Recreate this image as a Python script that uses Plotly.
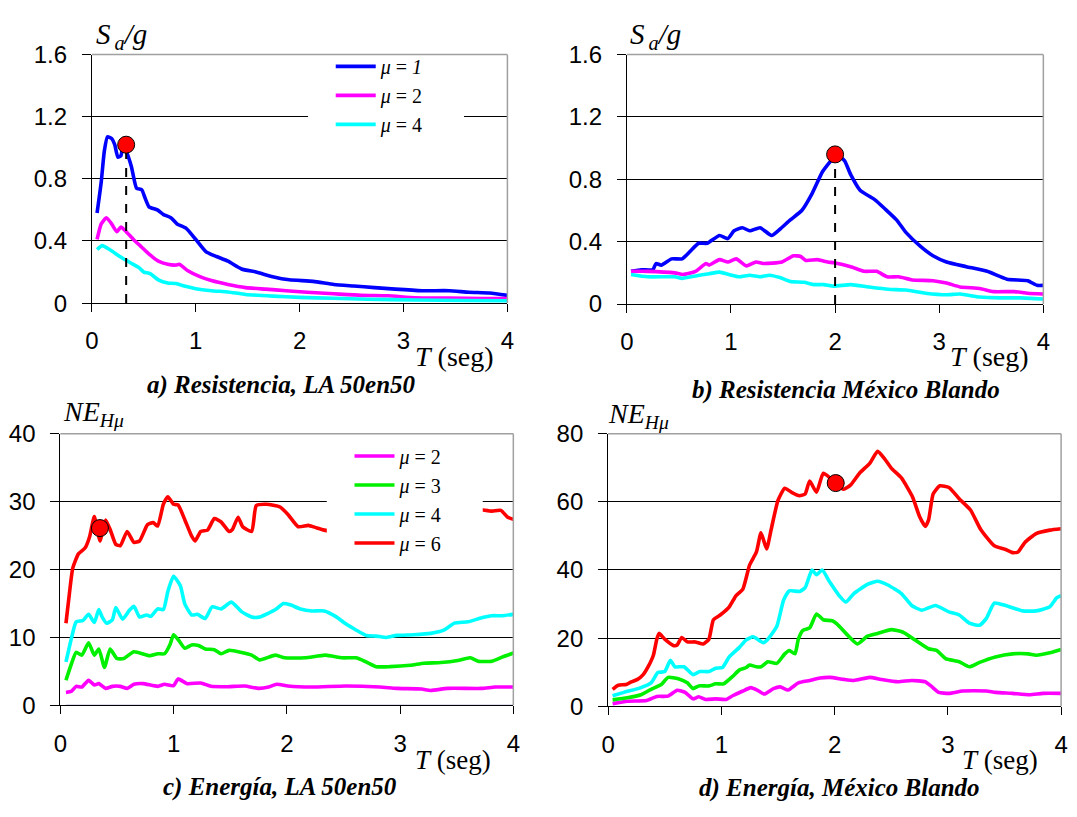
import plotly.graph_objects as go

# ---------------- DATA ----------------
# Panel a) Resistencia, LA 50en50  (Sa/g)
a_mu1_T = [0.05, 0.09, 0.12, 0.15, 0.19, 0.22, 0.25, 0.28, 0.30, 0.33, 0.38, 0.43, 0.48, 0.51, 0.55, 0.63, 0.69, 0.76, 0.82, 0.91, 1.00, 1.10, 1.20, 1.31, 1.44, 1.58, 1.74, 1.90, 2.13, 2.33, 2.52, 2.72, 2.92, 3.18, 3.44, 3.63, 3.83, 4.00]
a_mu1_V = [0.58, 0.78, 0.98, 1.07, 1.06, 1.02, 0.94, 0.95, 1.02, 0.98, 0.88, 0.74, 0.73, 0.68, 0.62, 0.60, 0.57, 0.55, 0.51, 0.48, 0.41, 0.33, 0.30, 0.27, 0.22, 0.20, 0.17, 0.15, 0.14, 0.12, 0.11, 0.10, 0.09, 0.08, 0.08, 0.07, 0.065, 0.05]
a_mu2_T = [0.05, 0.09, 0.14, 0.19, 0.24, 0.28, 0.33, 0.40, 0.48, 0.56, 0.64, 0.73, 0.81, 0.84, 0.92, 1.04, 1.15, 1.31, 1.48, 1.67, 1.87, 2.07, 2.33, 2.59, 2.85, 3.11, 3.44, 3.76, 4.00]
a_mu2_V = [0.41, 0.51, 0.55, 0.51, 0.46, 0.49, 0.46, 0.41, 0.36, 0.31, 0.27, 0.25, 0.245, 0.25, 0.21, 0.17, 0.145, 0.12, 0.10, 0.09, 0.08, 0.07, 0.06, 0.05, 0.047, 0.035, 0.033, 0.03, 0.03]
a_mu4_T = [0.05, 0.10, 0.17, 0.27, 0.37, 0.45, 0.50, 0.56, 0.64, 0.73, 0.81, 0.89, 1.00, 1.15, 1.31, 1.48, 1.74, 2.00, 2.33, 2.65, 3.11, 3.60, 4.00]
a_mu4_V = [0.345, 0.37, 0.345, 0.30, 0.26, 0.23, 0.20, 0.19, 0.15, 0.13, 0.126, 0.11, 0.093, 0.08, 0.072, 0.056, 0.045, 0.037, 0.031, 0.025, 0.02, 0.017, 0.015]
a_point = (0.33, 1.02)

# Panel b) Resistencia México Blando  (Sa/g)
b_mu1_T = [0.04, 0.14, 0.25, 0.28, 0.33, 0.43, 0.53, 0.61, 0.69, 0.77, 0.89, 0.97, 1.03, 1.11, 1.18, 1.28, 1.39, 1.47, 1.57, 1.68, 1.78, 1.88, 1.96, 2.01, 2.09, 2.15, 2.24, 2.38, 2.48, 2.59, 2.68, 2.82, 2.94, 3.07, 3.26, 3.46, 3.65, 3.85, 3.94, 4.00]
b_mu1_V = [0.21, 0.22, 0.22, 0.26, 0.25, 0.29, 0.29, 0.34, 0.39, 0.39, 0.44, 0.42, 0.47, 0.49, 0.47, 0.49, 0.44, 0.48, 0.54, 0.60, 0.71, 0.85, 0.92, 0.96, 0.92, 0.83, 0.73, 0.67, 0.61, 0.54, 0.46, 0.37, 0.31, 0.27, 0.24, 0.21, 0.16, 0.15, 0.12, 0.12]
b_mu2_T = [0.04, 0.20, 0.46, 0.54, 0.66, 0.76, 0.79, 0.89, 0.97, 1.05, 1.15, 1.24, 1.31, 1.49, 1.60, 1.67, 1.72, 1.83, 1.93, 1.99, 2.15, 2.28, 2.40, 2.50, 2.61, 2.74, 2.94, 3.07, 3.20, 3.39, 3.52, 3.72, 3.85, 4.00]
b_mu2_V = [0.21, 0.21, 0.20, 0.19, 0.21, 0.26, 0.25, 0.285, 0.27, 0.29, 0.245, 0.27, 0.26, 0.27, 0.31, 0.305, 0.28, 0.285, 0.27, 0.265, 0.24, 0.21, 0.21, 0.175, 0.175, 0.155, 0.15, 0.135, 0.11, 0.10, 0.08, 0.08, 0.07, 0.065]
b_mu4_T = [0.04, 0.20, 0.46, 0.53, 0.66, 0.79, 0.89, 0.98, 1.08, 1.18, 1.28, 1.37, 1.47, 1.57, 1.70, 1.80, 1.89, 1.99, 2.15, 2.32, 2.51, 2.68, 2.87, 3.07, 3.20, 3.39, 3.59, 3.78, 4.00]
b_mu4_V = [0.19, 0.175, 0.175, 0.165, 0.18, 0.195, 0.205, 0.19, 0.175, 0.185, 0.175, 0.185, 0.17, 0.145, 0.14, 0.125, 0.125, 0.115, 0.125, 0.11, 0.095, 0.09, 0.07, 0.06, 0.065, 0.045, 0.04, 0.04, 0.033]
b_point = (2.0, 0.96)

# Panel c) Energía, LA 50en50  (NE_Hmu)
c_mu1_T = [0.05, 4.00]
c_mu1_V = [0.0, 0.0]
c_mu2_T = [0.05, 0.10, 0.14, 0.19, 0.25, 0.30, 0.34, 0.40, 0.46, 0.53, 0.59, 0.65, 0.73, 0.86, 0.92, 1.00, 1.04, 1.12, 1.24, 1.33, 1.48, 1.63, 1.75, 1.84, 1.91, 2.01, 2.22, 2.52, 2.82, 2.97, 3.19, 3.27, 3.42, 3.72, 3.84, 4.00]
c_mu2_V = [1.9, 2.1, 2.8, 2.7, 3.7, 3.0, 3.2, 2.5, 2.8, 2.8, 2.5, 3.1, 3.2, 2.8, 3.1, 2.9, 3.9, 3.2, 3.3, 2.8, 2.75, 2.85, 2.5, 2.7, 3.1, 2.85, 2.7, 2.85, 2.7, 2.5, 2.4, 2.2, 2.5, 2.5, 2.7, 2.7]
c_mu3_T = [0.05, 0.10, 0.14, 0.19, 0.25, 0.30, 0.34, 0.39, 0.44, 0.50, 0.56, 0.65, 0.79, 0.86, 0.92, 0.97, 1.00, 1.04, 1.10, 1.16, 1.22, 1.28, 1.36, 1.42, 1.49, 1.60, 1.69, 1.76, 1.90, 1.98, 2.16, 2.34, 2.49, 2.61, 2.70, 2.79, 2.91, 3.09, 3.21, 3.36, 3.51, 3.62, 3.69, 3.81, 3.90, 4.00]
c_mu3_V = [3.7, 6.2, 7.8, 7.4, 9.2, 7.4, 8.3, 5.6, 8.3, 6.9, 6.9, 7.9, 7.3, 7.6, 7.6, 9.0, 10.4, 9.7, 8.4, 8.9, 8.8, 8.3, 8.2, 7.6, 8.1, 7.8, 7.4, 6.7, 7.4, 7.0, 7.0, 7.4, 7.0, 7.0, 6.4, 5.7, 5.7, 5.9, 6.2, 6.3, 6.6, 7.0, 6.5, 6.5, 7.1, 7.7]
c_mu4_T = [0.05, 0.10, 0.14, 0.20, 0.25, 0.30, 0.34, 0.37, 0.41, 0.46, 0.49, 0.55, 0.61, 0.65, 0.70, 0.76, 0.80, 0.86, 0.91, 0.95, 1.00, 1.06, 1.10, 1.16, 1.21, 1.28, 1.34, 1.42, 1.51, 1.60, 1.69, 1.76, 1.90, 1.97, 2.03, 2.12, 2.22, 2.33, 2.43, 2.52, 2.61, 2.70, 2.79, 2.88, 2.97, 3.12, 3.27, 3.39, 3.48, 3.60, 3.72, 3.81, 3.90, 4.00]
c_mu4_V = [6.4, 10.0, 12.3, 12.5, 13.4, 12.2, 14.1, 13.0, 12.1, 12.6, 14.4, 12.7, 14.0, 14.6, 13.0, 13.3, 13.1, 14.2, 14.1, 16.8, 19.0, 17.6, 14.9, 13.3, 13.4, 12.8, 14.5, 14.2, 15.2, 13.8, 13.0, 13.0, 14.1, 15.0, 14.8, 14.2, 13.9, 13.9, 13.1, 12.0, 11.1, 10.3, 10.2, 10.0, 10.3, 10.4, 10.6, 11.1, 12.1, 12.3, 12.9, 13.2, 13.2, 13.4]
c_mu6_T = [0.05, 0.08, 0.11, 0.16, 0.22, 0.26, 0.30, 0.33, 0.35, 0.40, 0.44, 0.49, 0.53, 0.59, 0.65, 0.70, 0.77, 0.82, 0.86, 0.91, 0.95, 1.00, 1.04, 1.10, 1.16, 1.19, 1.24, 1.30, 1.36, 1.42, 1.49, 1.52, 1.57, 1.61, 1.69, 1.73, 1.82, 1.94, 2.01, 2.10, 2.19, 2.25, 2.33, 2.45, 2.60, 2.80, 3.00, 3.20, 3.40, 3.60, 3.72, 3.81, 3.89, 3.95, 4.00]
c_mu6_V = [12.1, 16.4, 20.2, 22.3, 23.2, 24.9, 27.8, 25.6, 24.2, 27.3, 25.9, 23.7, 23.5, 25.6, 24.0, 24.2, 26.6, 26.9, 26.4, 29.6, 30.7, 29.6, 29.5, 27.3, 24.9, 24.2, 25.6, 25.8, 27.5, 27.0, 25.6, 25.9, 27.7, 26.3, 25.6, 29.4, 29.6, 29.2, 28.1, 26.3, 26.5, 26.2, 25.8, 25.6, 26.4, 27.5, 28.2, 27.6, 28.4, 29.0, 28.8, 28.6, 28.7, 27.7, 27.4]
c_point = (0.35, 26.1)

# Panel d) Energía, México Blando  (NE_Hmu)
d_mu2_T = [0.04, 0.17, 0.34, 0.43, 0.53, 0.61, 0.68, 0.75, 0.80, 0.86, 0.95, 1.04, 1.10, 1.19, 1.26, 1.32, 1.38, 1.46, 1.52, 1.59, 1.68, 1.78, 1.87, 1.96, 2.08, 2.17, 2.31, 2.41, 2.56, 2.68, 2.80, 2.86, 2.92, 3.01, 3.13, 3.34, 3.42, 3.57, 3.72, 3.84, 4.00]
d_mu2_V = [0.8, 1.5, 1.7, 2.9, 3.0, 4.7, 4.1, 2.2, 2.8, 2.0, 2.2, 2.0, 3.1, 4.5, 5.5, 4.7, 3.6, 5.2, 5.7, 4.8, 6.9, 7.6, 8.3, 8.5, 7.9, 7.6, 8.5, 7.9, 7.2, 7.6, 7.2, 5.7, 4.1, 3.8, 4.5, 4.5, 4.1, 3.8, 3.4, 3.8, 3.8]
d_mu3_T = [0.04, 0.17, 0.29, 0.38, 0.47, 0.53, 0.62, 0.70, 0.75, 0.80, 0.89, 0.95, 1.02, 1.10, 1.16, 1.22, 1.25, 1.31, 1.35, 1.41, 1.49, 1.56, 1.60, 1.65, 1.68, 1.72, 1.78, 1.84, 1.90, 1.98, 2.02, 2.10, 2.20, 2.29, 2.38, 2.50, 2.60, 2.71, 2.83, 2.90, 2.98, 3.10, 3.19, 3.28, 3.42, 3.57, 3.71, 3.78, 3.90, 4.00]
d_mu3_V = [1.9, 2.5, 3.4, 5.0, 6.4, 8.5, 8.1, 6.9, 5.2, 6.0, 6.0, 6.6, 6.6, 8.8, 10.7, 11.4, 12.1, 11.6, 11.6, 13.1, 12.6, 15.4, 16.4, 15.4, 19.7, 22.3, 23.0, 27.1, 25.4, 25.1, 24.2, 21.4, 18.3, 20.6, 21.4, 22.5, 21.8, 19.5, 16.9, 16.4, 14.0, 13.1, 11.6, 12.9, 14.5, 15.4, 15.4, 15.0, 15.7, 16.7]
d_mu4_T = [0.04, 0.14, 0.29, 0.38, 0.44, 0.50, 0.55, 0.59, 0.67, 0.75, 0.81, 0.89, 0.95, 1.01, 1.07, 1.16, 1.22, 1.28, 1.37, 1.41, 1.49, 1.55, 1.60, 1.69, 1.74, 1.80, 1.84, 1.89, 1.96, 2.04, 2.10, 2.17, 2.29, 2.38, 2.47, 2.59, 2.68, 2.77, 2.89, 3.01, 3.10, 3.19, 3.28, 3.34, 3.41, 3.51, 3.66, 3.78, 3.90, 3.96, 4.00]
d_mu4_V = [3.1, 4.1, 5.5, 6.9, 9.9, 10.2, 13.5, 11.6, 11.6, 9.3, 10.2, 10.2, 11.2, 11.4, 14.5, 17.3, 19.5, 20.4, 18.7, 19.7, 23.5, 31.2, 33.9, 33.7, 34.8, 40.0, 38.6, 40.0, 36.3, 32.5, 30.6, 33.1, 35.8, 36.7, 35.6, 33.1, 29.6, 28.2, 29.6, 27.7, 26.8, 24.4, 23.8, 25.8, 30.3, 29.6, 28.0, 28.0, 29.2, 31.8, 32.5]
d_mu6_T = [0.04, 0.09, 0.16, 0.20, 0.26, 0.31, 0.35, 0.40, 0.43, 0.45, 0.50, 0.58, 0.61, 0.65, 0.70, 0.77, 0.84, 0.89, 0.93, 0.99, 1.07, 1.13, 1.19, 1.25, 1.31, 1.35, 1.40, 1.44, 1.50, 1.56, 1.62, 1.69, 1.74, 1.78, 1.84, 1.90, 1.96, 2.01, 2.08, 2.14, 2.22, 2.31, 2.38, 2.44, 2.50, 2.59, 2.69, 2.75, 2.80, 2.83, 2.87, 2.93, 3.01, 3.10, 3.20, 3.29, 3.41, 3.51, 3.57, 3.62, 3.68, 3.78, 3.90, 4.00]
d_mu6_V = [5.0, 6.2, 6.4, 7.1, 7.9, 9.3, 11.4, 15.0, 19.7, 21.4, 19.7, 17.8, 18.0, 20.2, 18.9, 18.9, 18.3, 19.7, 25.4, 26.8, 29.2, 32.5, 34.4, 41.5, 45.3, 50.9, 46.2, 51.9, 60.4, 64.0, 62.8, 61.8, 62.3, 66.1, 62.8, 68.4, 67.0, 65.3, 63.7, 64.9, 68.4, 71.3, 74.8, 72.7, 69.9, 67.0, 61.3, 55.7, 52.8, 54.7, 62.3, 64.7, 64.2, 60.9, 57.6, 51.9, 47.1, 46.0, 45.1, 45.3, 48.1, 50.7, 51.7, 52.1]
d_point = (2.01, 65.5)

x_ticks = [0, 1, 2, 3, 4]
sa_ticks = [0, 0.4, 0.8, 1.2, 1.6]
sa_ticktext = ["0", "0.4", "0.8", "1.2", "1.6"]
ne_c_ticks = [0, 10, 20, 30, 40]
ne_d_ticks = [0, 20, 40, 60, 80]

captions = ["a) Resistencia, LA 50en50", "b) Resistencia México Blando",
            "c) Energía, LA 50en50", "d) Energía, México Blando"]

# ---------------- STYLE ----------------
W, H = 1077, 817
BLUE = "#0000FF"
MAGENTA = "#FF00FF"
CYAN = "#00FFFF"
GREEN = "#00F000"
RED = "#FF0000"
LW = 3.6
SANS = "Liberation Sans, Arial, sans-serif"
SERIF = "Liberation Serif, Times New Roman, serif"

def px_x(p):
    return p / W

def px_y(p):
    return 1 - p / H

# subplot boxes in pixels: (left, right, top, bottom)
boxes = {
    "1": (86, 507, 42, 299),
    "2": (628, 1050, 42, 300),
    "3": (54, 513, 434, 715),
    "4": (609, 1068, 434, 716),
}

fig = go.Figure()

def line(x, y, color, name, n, legend=None, show=True, width=LW):
    fig.add_trace(go.Scatter(
        x=x, y=y, mode="lines", name=name,
        line=dict(color=color, width=width, shape="spline", smoothing=0.5),
        xaxis="x" + ("" if n == "1" else n), yaxis="y" + ("" if n == "1" else n),
        showlegend=show, legend=legend if legend else "legend",
        hoverinfo="skip",
    ))

def point(pt, n, dashed):
    xa = "x" + ("" if n == "1" else n)
    ya = "y" + ("" if n == "1" else n)
    if dashed:
        fig.add_trace(go.Scatter(x=[pt[0], pt[0]], y=[0, pt[1]], mode="lines",
                                 line=dict(color="black", width=2, dash="dash"),
                                 xaxis=xa, yaxis=ya, showlegend=False, hoverinfo="skip"))
    fig.add_trace(go.Scatter(x=[pt[0]], y=[pt[1]], mode="markers",
                             marker=dict(size=17, color=RED, line=dict(color="black", width=1)),
                             xaxis=xa, yaxis=ya, showlegend=False, hoverinfo="skip", cliponaxis=False))

# panel a
line(a_mu1_T, a_mu1_V, BLUE, "<i>μ</i> = <i>1</i>", "1")
line(a_mu2_T, a_mu2_V, MAGENTA, "<i>μ</i> = 2", "1")
line(a_mu4_T, a_mu4_V, CYAN, "<i>μ</i> = 4", "1")
point(a_point, "1", True)
# panel b
line(b_mu1_T, b_mu1_V, BLUE, "μ = 1", "2", show=False)
line(b_mu2_T, b_mu2_V, MAGENTA, "μ = 2", "2", show=False)
line(b_mu4_T, b_mu4_V, CYAN, "μ = 4", "2", show=False)
point(b_point, "2", True)
# panel c
line(c_mu1_T, c_mu1_V, "#000080", "μ = 1", "3", show=False, width=1)
line(c_mu2_T, c_mu2_V, MAGENTA, "<i>μ</i> = 2", "3", legend="legend2")
line(c_mu3_T, c_mu3_V, GREEN, "<i>μ</i> = 3", "3", legend="legend2")
line(c_mu4_T, c_mu4_V, CYAN, "<i>μ</i> = 4", "3", legend="legend2")
line(c_mu6_T, c_mu6_V, RED, "<i>μ</i> = 6", "3", legend="legend2")
point(c_point, "3", False)
# panel d
line(d_mu2_T, d_mu2_V, MAGENTA, "μ = 2", "4", show=False)
line(d_mu3_T, d_mu3_V, GREEN, "μ = 3", "4", show=False)
line(d_mu4_T, d_mu4_V, CYAN, "μ = 4", "4", show=False)
line(d_mu6_T, d_mu6_V, RED, "μ = 6", "4", show=False)
point(d_point, "4", False)

layout = dict(
    width=W, height=H, margin=dict(l=0, r=0, t=0, b=0),
    paper_bgcolor="white", plot_bgcolor="white",
    showlegend=True,
    font=dict(family=SANS, color="black"),
)

yranges = {"1": ([0, 1.6], sa_ticks, sa_ticktext), "2": ([0, 1.6], sa_ticks, sa_ticktext),
           "3": ([0, 40], ne_c_ticks, [str(v) for v in ne_c_ticks]),
           "4": ([0, 80], ne_d_ticks, [str(v) for v in ne_d_ticks])}

shapes = []
annotations = []
for n, (l, r, t, b) in boxes.items():
    xk = "xaxis" + ("" if n == "1" else n)
    yk = "yaxis" + ("" if n == "1" else n)
    layout[xk] = dict(
        domain=[px_x(l), px_x(r)], range=[0, 4], tickvals=x_ticks,
        ticks="outside", ticklen=8, tickcolor="black", tickwidth=1,
        showline=True, linecolor="black", linewidth=1,
        showgrid=False, zeroline=False,
        tickfont=dict(family=SANS, size=24, color="black"),
        ticklabelstandoff=8 if n in ("1", "2") else 9,
        anchor="y" + ("" if n == "1" else n), fixedrange=True,
    )
    rng, tv, tt = yranges[n]
    layout[yk] = dict(
        domain=[px_y(b), px_y(t)], range=rng, tickvals=tv, ticktext=tt,
        ticks="outside", ticklen=9, tickcolor="black", tickwidth=1,
        showline=True, linecolor="black", linewidth=1,
        showgrid=True, gridcolor="black", gridwidth=1, zeroline=False,
        tickfont=dict(family=SANS, size=24, color="black"),
        ticklabelstandoff=10,
        anchor="x" + ("" if n == "1" else n), fixedrange=True,
    )
    # grey frame on top and right
    shapes.append(dict(type="line", xref="paper", yref="paper",
                       x0=px_x(l), x1=px_x(r), y0=px_y(t), y1=px_y(t),
                       line=dict(color="#A0A0A0", width=1.5), layer="above"))
    shapes.append(dict(type="line", xref="paper", yref="paper",
                       x0=px_x(r), x1=px_x(r), y0=px_y(t), y1=px_y(b),
                       line=dict(color="#A0A0A0", width=1.5), layer="above"))

# legend backgrounds
shapes.append(dict(type="rect", xref="paper", yref="paper",
                   x0=px_x(305), x1=px_x(463), y0=px_y(140), y1=px_y(46),
                   fillcolor="white", line=dict(width=0), layer="above"))
shapes.append(dict(type="rect", xref="paper", yref="paper",
                   x0=px_x(324), x1=px_x(482), y0=px_y(560), y1=px_y(438),
                   fillcolor="white", line=dict(width=0), layer="above"))

layout["legend"] = dict(x=px_x(328), y=px_y(34), xanchor="left", yanchor="top",
                        bgcolor="rgba(0,0,0,0)", borderwidth=0, itemwidth=40,
                        font=dict(family=SERIF, size=20, color="black"), tracegroupgap=0)
layout["legend2"] = dict(x=px_x(347), y=px_y(437), xanchor="left", yanchor="top",
                         bgcolor="rgba(0,0,0,0)", borderwidth=0, itemwidth=40,
                         font=dict(family=SERIF, size=20, color="black"), tracegroupgap=0)

def ann(text, xp, yp, size, xanchor="center"):
    annotations.append(dict(text=text, x=px_x(xp), y=px_y(yp), xref="paper", yref="paper",
                            showarrow=False, xanchor=xanchor, yanchor="middle",
                            font=dict(family=SERIF, size=size, color="black")))

# axis titles
ann("<i>S<sub>\u2009a</sub>/g</i>", 88, 23, 29, "left")
ann("<i>S<sub>\u2009a</sub>/g</i>", 629, 23, 29, "left")
ann("<i>NE<sub>Hμ</sub></i>", 55, 413, 28, "left")
ann("<i>NE<sub>Hμ</sub></i>", 607, 415, 28, "left")
ann("<i>T</i> (seg)", 411, 354, 28, "left")
ann("<i>T</i> (seg)", 953, 354, 28, "left")
ann("<i>T</i> (seg)", 411, 772, 27, "left")
ann("<i>T</i> (seg)", 966, 772, 27, "left")
# captions
ann("<b><i>" + captions[0] + "</i></b>", 278, 384, 25)
ann("<b><i>" + captions[1] + "</i></b>", 850, 389, 25)
ann("<b><i>" + captions[2] + "</i></b>", 277, 799, 25)
ann("<b><i>" + captions[3] + "</i></b>", 843, 800, 25)

layout["shapes"] = shapes
layout["annotations"] = annotations
fig.update_layout(**layout)
fig.write_html("out.html")
